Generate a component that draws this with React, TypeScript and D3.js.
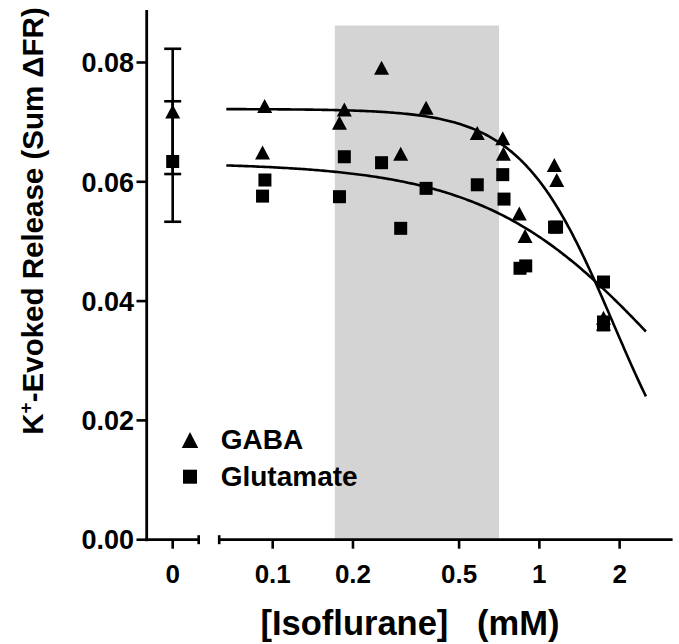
import React from "react";
import * as d3 from "d3";

// ---- data ----
const yTicks = [0, 0.02, 0.04, 0.06, 0.08];
const yTickLabels = ["0.00", "0.02", "0.04", "0.06", "0.08"];
const xTicks = [0.1, 0.2, 0.5, 1, 2];
const xTickLabels = ["0.1", "0.2", "0.5", "1", "2"];

const gabaConc = [0.0933, 0.0916, 0.178, 0.1856, 0.256, 0.302, 0.376, 0.585, 0.729, 0.733, 0.841, 0.884, 1.138, 1.162, 1.74, 1.74];
const gabaVal = [0.0727, 0.0649, 0.0699, 0.0721, 0.0791, 0.0647, 0.0724, 0.0682, 0.0673, 0.0647, 0.0547, 0.0509, 0.0628, 0.0603, 0.0372, 0.0362];

const gluConc = [0.0935, 0.0916, 0.1856, 0.178, 0.256, 0.302, 0.376, 0.585, 0.729, 0.737, 0.846, 0.889, 1.14, 1.16, 1.74, 1.74, 1.74];
const gluVal = [0.0603, 0.0576, 0.0642, 0.0575, 0.0632, 0.0522, 0.0589, 0.0595, 0.0612, 0.0571, 0.0455, 0.0459, 0.0524, 0.0524, 0.0432, 0.0365, 0.036];

// control (0 mM) mean ± error
const ctrlGabaMean = 0.0718;
const ctrlGabaErr = 0.0105;
const ctrlGluMean = 0.0634;
const ctrlGluErr = 0.0101;

// fitted curves: top / (1 + (x/IC50)^hill)
const gabaFit = { top: 0.0722, ic50: 1.9, hill: 2.5 };
const gluFit = { top: 0.0632, ic50: 2.95, hill: 1.3 };
const fitRange = [0.067, 2.51];

// shaded clinical range (mM)
const shadeRange = [0.171, 0.706];
const shadeTop = 0.0862;

const FONT = "'Liberation Sans', Arial, Helvetica, sans-serif";

function triPath(x: number, y: number, w: number, h: number) {
  return `M${x},${y - h / 2}L${x + w / 2},${y + h / 2}L${x - w / 2},${y + h / 2}Z`;
}

export default function App() {
  const y = d3.scaleLinear().domain([0, 0.0888]).range([539.7, 10]);
  const xCtrl = d3.scaleLinear().domain([-1, 1]).range([146.7, 198.7]);
  const xLog = d3.scaleLog().domain([0.063, 3.16]).range([219.2, 672.6]);
  const axisY = y(0);

  const curve = (fit: { top: number; ic50: number; hill: number }) => {
    const pts = d3.range(0, 201).map((i) => {
      const lx = Math.log10(fitRange[0]) + (i / 200) * (Math.log10(fitRange[1]) - Math.log10(fitRange[0]));
      const c = Math.pow(10, lx);
      return [c, fit.top / (1 + Math.pow(c / fit.ic50, fit.hill))] as [number, number];
    });
    return d3
      .line<[number, number]>()
      .x((d) => xLog(d[0]))
      .y((d) => y(d[1]))(pts) as string;
  };

  const sq = 13;
  const tw = 15;
  const th = 14;
  const x0 = xCtrl(0);

  return (
    <svg width={679} height={644} style={{ position: "absolute", left: 0, top: 0, background: "#fff" }}>
      {/* shaded region */}
      <rect
        x={xLog(shadeRange[0])}
        y={y(shadeTop)}
        width={xLog(shadeRange[1]) - xLog(shadeRange[0])}
        height={axisY - y(shadeTop)}
        fill="#d4d4d4"
      />

      {/* y axis */}
      <line x1={146.7} x2={146.7} y1={y.range()[1]} y2={axisY + 1.5} stroke="#000" strokeWidth={2.8} />
      {yTicks.map((t, i) => (
        <g key={"yt" + i}>
          <line x1={136.5} x2={146.7} y1={y(t)} y2={y(t)} stroke="#000" strokeWidth={2.6} />
          <text
            x={134}
            y={y(t)}
            dy="0.36em"
            textAnchor="end"
            fontFamily={FONT}
            fontWeight="bold"
            fontSize={27}
          >
            {yTickLabels[i]}
          </text>
        </g>
      ))}

      {/* x axis segment 1 (control) */}
      <line x1={145.3} x2={xCtrl.range()[1]} y1={axisY} y2={axisY} stroke="#000" strokeWidth={2.8} />
      <line x1={xCtrl.range()[1]} x2={xCtrl.range()[1]} y1={axisY - 4.5} y2={axisY + 4.5} stroke="#000" strokeWidth={2.6} />
      <line x1={x0} x2={x0} y1={axisY} y2={axisY + 9} stroke="#000" strokeWidth={2.6} />
      <text x={x0} y={583} textAnchor="middle" fontFamily={FONT} fontWeight="bold" fontSize={26}>
        0
      </text>

      {/* x axis segment 2 (log) */}
      <line x1={xLog.range()[0]} x2={xLog.range()[1]} y1={axisY} y2={axisY} stroke="#000" strokeWidth={2.8} />
      <line x1={xLog.range()[0]} x2={xLog.range()[0]} y1={axisY - 4.5} y2={axisY + 4.5} stroke="#000" strokeWidth={2.6} />
      {xTicks.map((t, i) => (
        <g key={"xt" + i}>
          <line x1={xLog(t)} x2={xLog(t)} y1={axisY} y2={axisY + 9} stroke="#000" strokeWidth={2.6} />
          <text x={xLog(t)} y={583} textAnchor="middle" fontFamily={FONT} fontWeight="bold" fontSize={26}>
            {xTickLabels[i]}
          </text>
        </g>
      ))}

      {/* axis titles */}
      <text
        x={410}
        y={635}
        textAnchor="middle"
        fontFamily={FONT}
        fontWeight="bold"
        fontSize={34.5}
        style={{ whiteSpace: "pre" }}
      >
        {"[Isoflurane]   (mM)"}
      </text>
      <text
        transform="translate(43,221) rotate(-90)"
        textAnchor="middle"
        fontFamily={FONT}
        fontWeight="bold"
        fontSize={29.5}
      >
        K<tspan fontSize={19} dy={-11}>+</tspan>
        <tspan dy={11}>-Evoked Release (Sum ΔFR)</tspan>
      </text>

      {/* control error bars */}
      {[
        [ctrlGabaMean, ctrlGabaErr],
        [ctrlGluMean, ctrlGluErr],
      ].map(([m, e], i) => (
        <g key={"eb" + i} stroke="#000" strokeWidth={2.6}>
          <line x1={x0} x2={x0} y1={y(m + e)} y2={y(m - e)} />
          <line x1={x0 - 8.5} x2={x0 + 8.5} y1={y(m + e)} y2={y(m + e)} />
          <line x1={x0 - 8.5} x2={x0 + 8.5} y1={y(m - e)} y2={y(m - e)} />
        </g>
      ))}
      <path d={triPath(x0, y(ctrlGabaMean), tw, th)} fill="#000" />
      <rect x={x0 - sq / 2} y={y(ctrlGluMean) - sq / 2} width={sq} height={sq} fill="#000" />

      {/* fitted curves */}
      <path d={curve(gabaFit)} fill="none" stroke="#000" strokeWidth={2.6} />
      <path d={curve(gluFit)} fill="none" stroke="#000" strokeWidth={2.6} />

      {/* data points */}
      {gluConc.map((c, i) => (
        <rect key={"g" + i} x={xLog(c) - sq / 2} y={y(gluVal[i]) - sq / 2} width={sq} height={sq} fill="#000" />
      ))}
      {gabaConc.map((c, i) => (
        <path key={"a" + i} d={triPath(xLog(c), y(gabaVal[i]), tw, th)} fill="#000" />
      ))}

      {/* legend */}
      <path d={triPath(190, 440, 16.5, 16)} fill="#000" />
      <text x={220.7} y={449} fontFamily={FONT} fontWeight="bold" fontSize={28}>
        GABA
      </text>
      <rect x={190 - 7} y={476.7 - 7} width={14} height={14} fill="#000" />
      <text x={220.7} y={486} fontFamily={FONT} fontWeight="bold" fontSize={28}>
        Glutamate
      </text>
    </svg>
  );
}
